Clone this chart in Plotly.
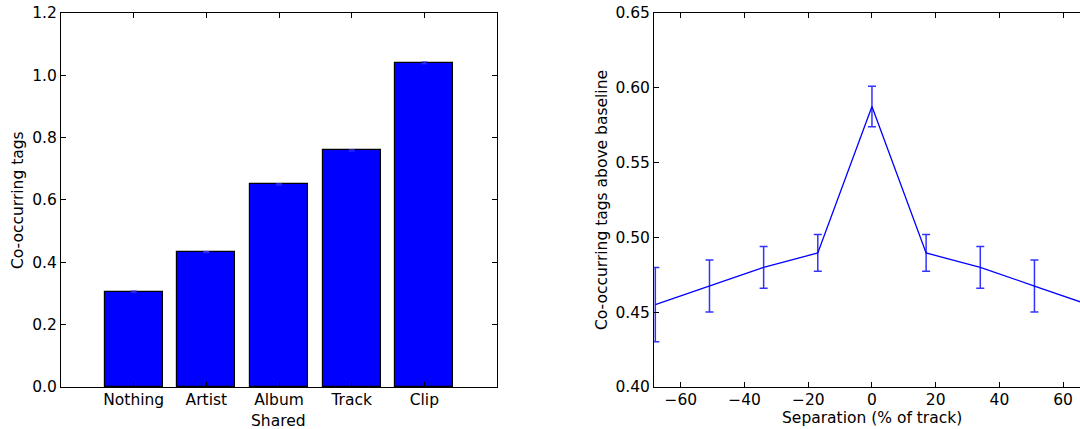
import plotly.graph_objects as go

# Left panel data
categories = ["Nothing", "Artist", "Album", "Track", "Clip"]
cooccur = [0.306, 0.433, 0.650, 0.759, 1.040]
cooccur_err = [0.002, 0.002, 0.002, 0.002, 0.003]

# Right panel data
separation = [-68, -51, -34, -17, 0, 17, 34, 51, 68]
above_baseline = [0.455, 0.4675, 0.480, 0.4896, 0.5875, 0.4896, 0.480, 0.4675, 0.455]
above_err = [0.0248, 0.0174, 0.014, 0.0123, 0.0135, 0.0123, 0.014, 0.0174, 0.0248]

FONT = "DejaVu Sans"
FS = 15.5
fig = go.Figure()

fig.add_trace(go.Bar(
    x=list(range(1, len(categories) + 1)), y=cooccur,
    width=0.8,
    marker=dict(color="#0000ff", line=dict(color="black", width=1.2)),
    error_y=dict(type="data", array=cooccur_err, color="#3333ff", thickness=1, width=3),
    xaxis="x", yaxis="y", showlegend=False,
))

fig.add_trace(go.Scatter(
    x=separation, y=above_baseline, mode="lines",
    line=dict(color="#0000ff", width=1.3),
    error_y=dict(type="data", array=above_err, color="#3333ff", thickness=1.5, width=4),
    xaxis="x2", yaxis="y2", showlegend=False, cliponaxis=True,
))

axis_common = dict(
    showgrid=False, zeroline=False, showline=True, linecolor="black", linewidth=1,
    ticks="inside", ticklen=5, tickcolor="black", tickwidth=1, automargin=False,
    tickfont=dict(family=FONT, size=FS, color="black"),
)

fig.update_layout(
    width=1080, height=429,
    margin=dict(l=0, r=0, t=0, b=0, autoexpand=False),
    paper_bgcolor="white", plot_bgcolor="white",
    font=dict(family=FONT, size=FS, color="black"),
    bargap=0,
    xaxis=dict(domain=[0.0565, 0.4602], range=[0, 6], tickvals=list(range(1, len(categories) + 1)),
               ticktext=categories, mirror="allticks", ticklabelstandoff=-2, **axis_common),
    yaxis=dict(domain=[0.0979, 0.9697], range=[0, 1.2], tickvals=[0, 0.2, 0.4, 0.6, 0.8, 1.0, 1.2],
               tickformat=".1f", mirror="allticks", anchor="x", **axis_common),
    xaxis2=dict(domain=[0.6056, 1.0], range=[-68.4, 65.3], tickvals=[-60, -40, -20, 0, 20, 40, 60],
                ticktext=["\u221260", "\u221240", "\u221220", "0", "20", "40", "60"],
                mirror="allticks", anchor="y2", ticklabelstandoff=-2, **axis_common),
    yaxis2=dict(domain=[0.0979, 0.9697], range=[0.40, 0.65],
                tickvals=[0.40, 0.45, 0.50, 0.55, 0.60, 0.65], tickformat=".2f",
                mirror=False, anchor="x2", **axis_common),
    annotations=[
        dict(text="Shared", x=0.2583, y=1 - 421 / 429, xref="paper", yref="paper",
             xanchor="center", yanchor="middle", showarrow=False, font=dict(family=FONT, size=FS)),
        dict(text="Co-occurring tags", x=18 / 1080, y=1 - 200 / 429, xref="paper", yref="paper",
             xanchor="center", yanchor="middle", textangle=-90, showarrow=False, font=dict(family=FONT, size=FS)),
        dict(text="Separation (% of track)", x=872 / 1080, y=1 - 418 / 429, xref="paper", yref="paper",
             xanchor="center", yanchor="middle", showarrow=False, font=dict(family=FONT, size=FS)),
        dict(text="Co-occurring tags above baseline", x=602 / 1080, y=1 - 200 / 429, xref="paper", yref="paper",
             xanchor="center", yanchor="middle", textangle=-90, showarrow=False, font=dict(family=FONT, size=FS)),
    ],
)

fig.write_html("out.html")
